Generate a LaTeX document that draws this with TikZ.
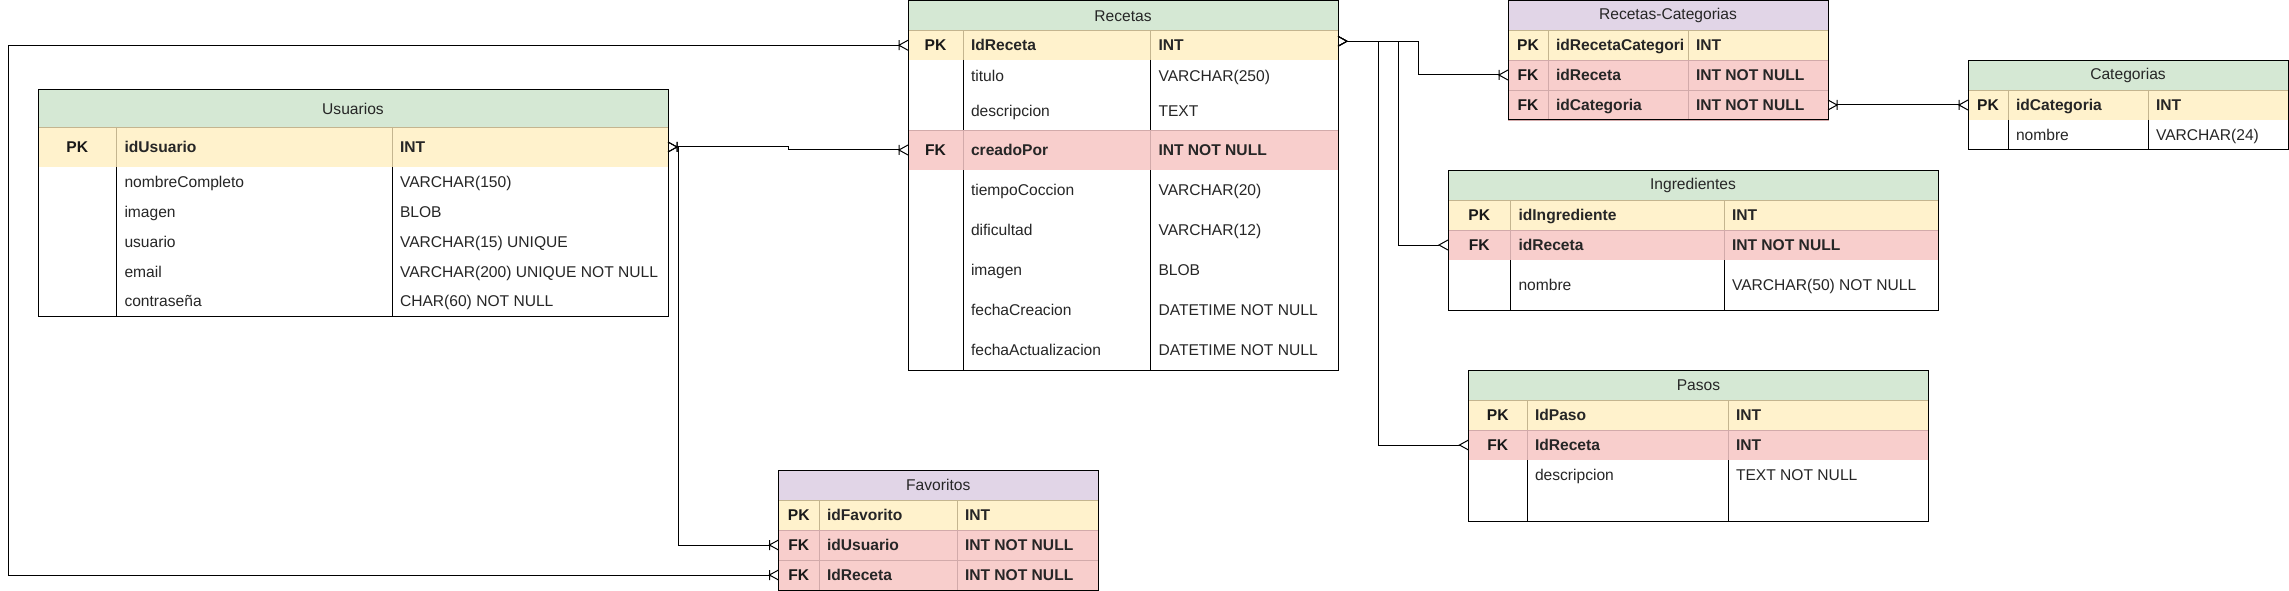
\documentclass[tikz,border=0pt]{standalone}
\usepackage{fontspec}
\setmainfont{Liberation Sans}
\usetikzlibrary{arrows.meta}

\definecolor{hdrgreen}{HTML}{D5E8D4}
\definecolor{hdrpurple}{HTML}{E1D5E7}
\definecolor{pkfill}{HTML}{FFF2CC}
\definecolor{fkfill}{HTML}{F8CECC}
\definecolor{pkline}{HTML}{C4B58F}
\definecolor{fkline}{HTML}{D2AAAA}

\pgfdeclarearrow{
  name=Crow,
  parameters={\the\pgfarrowlength,\the\pgfarrowwidth},
  setup code={
    \pgfarrowssettipend{0pt}
    \pgfarrowssetlineend{-\pgfarrowlength}
    \pgfarrowssetbackend{-\pgfarrowlength}
    \pgfarrowssetvisualbackend{-\pgfarrowlength}
    \pgfarrowshullpoint{0pt}{0.5\pgfarrowwidth}
    \pgfarrowshullpoint{0pt}{-0.5\pgfarrowwidth}
    \pgfarrowshullpoint{-\pgfarrowlength}{0pt}
    \pgfarrowssavethe\pgfarrowlength
    \pgfarrowssavethe\pgfarrowwidth
  },
  drawing code={
    \pgfpathmoveto{\pgfpoint{0pt}{0.5\pgfarrowwidth}}
    \pgfpathlineto{\pgfpoint{-\pgfarrowlength}{0pt}}
    \pgfpathlineto{\pgfpoint{0pt}{-0.5\pgfarrowwidth}}
    \pgfusepathqstroke
  },
  defaults={length=9pt,width=10pt}
}
\pgfdeclarearrow{
  name=CrowBar,
  parameters={\the\pgfarrowlength,\the\pgfarrowwidth},
  setup code={
    \pgfarrowssettipend{0pt}
    \pgfarrowssetlineend{-\pgfarrowlength}
    \pgfarrowssetbackend{-\pgfarrowlength}
    \pgfarrowssetvisualbackend{-\pgfarrowlength}
    \pgfarrowshullpoint{0pt}{0.5\pgfarrowwidth}
    \pgfarrowshullpoint{0pt}{-0.5\pgfarrowwidth}
    \pgfarrowshullpoint{-\pgfarrowlength}{0.5\pgfarrowwidth}
    \pgfarrowshullpoint{-\pgfarrowlength}{-0.5\pgfarrowwidth}
    \pgfarrowssavethe\pgfarrowlength
    \pgfarrowssavethe\pgfarrowwidth
  },
  drawing code={
    \pgfpathmoveto{\pgfpoint{0pt}{0.5\pgfarrowwidth}}
    \pgfpathlineto{\pgfpoint{-\pgfarrowlength}{0pt}}
    \pgfpathlineto{\pgfpoint{0pt}{-0.5\pgfarrowwidth}}
    \pgfpathmoveto{\pgfpoint{-\pgfarrowlength}{0.5\pgfarrowwidth}}
    \pgfpathlineto{\pgfpoint{-\pgfarrowlength}{-0.5\pgfarrowwidth}}
    \pgfusepathqstroke
  },
  defaults={length=9pt,width=10pt}
}

\newcommand\tfont{\fontsize{15.6pt}{18pt}\selectfont}

\tikzset{
  hdr/.style={inner sep=0pt, outer sep=0pt, draw=none, font=\tfont, text=black!85},
  rowbox/.style={inner sep=0pt, outer sep=0pt},
  pkrow/.style={rowbox, fill=pkfill, draw=pkline, line width=0.8pt},
  fkrow/.style={rowbox, fill=fkfill, draw=fkline, line width=0.8pt},
  plainrow/.style={rowbox, fill=white, draw=none},
  keytxt/.style={inner sep=0pt, outer sep=0pt, anchor=center, font=\tfont\bfseries,
    text height=14.1pt, text depth=3.3pt, text=black!90},
  fldtxt/.style={inner sep=0pt, outer sep=0pt, anchor=west, font=\tfont,
    text height=14.1pt, text depth=3.3pt, text=black!85},
  divline/.style={line width=1pt},
  tframe/.style={draw=black, line width=1pt, fill=none, inner sep=0pt, outer sep=0pt},
  conn/.style={draw=black, line width=1pt}
}

% column positions of the current table
\newcommand\cols[4]{\def\cA{#1}\def\cB{#2}\def\cC{#3}\def\cD{#4}}
% header: name, fill, ytop, ybot, title
\newcommand\thead[5]{%
  \node[hdr, fill=#2, minimum width={(\cD-\cA)*1pt}, minimum height={(#4-#3)*1pt}]
    (#1) at ({(\cA+\cD)/2},{(#3+#4)/2}) {#5};}
% row: name, style, divider colour, ytop, ybot, key, field, type, weight
\newcommand\trow[9]{%
  \node[#2, minimum width={(\cD-\cA)*1pt}, minimum height={(#5-#4)*1pt}]
    (#1) at ({(\cA+\cD)/2},{(#4+#5)/2}) {};
  \draw[divline, draw=#3] (\cB,#4) -- (\cB,#5);
  \draw[divline, draw=#3] (\cC,#4) -- (\cC,#5);
  \node[keytxt] (#1-k) at ({(\cA+\cB)/2},{(#4+#5)/2}) {#6};
  \node[fldtxt] (#1-f) at ({\cB+8},{(#4+#5)/2}) {#9#7};
  \node[fldtxt] (#1-t) at ({\cC+8},{(#4+#5)/2}) {#9#8};}
% outer frame: name, ytop, ybot
\newcommand\tbox[3]{%
  \node[tframe, minimum width={(\cD-\cA)*1pt}, minimum height={(#3-#2)*1pt}]
    (#1) at ({(\cA+\cD)/2},{(#2+#3)/2}) {};}

\begin{document}
\begin{tikzpicture}[x=1pt,y=-1pt]
\fill[white] (0,0) rectangle (2289,591);
\useasboundingbox (0,0) rectangle (2289,591);

% ---------------- Usuarios
\cols{38}{116.5}{392}{668}
\thead{usu-h}{hdrgreen}{90}{127}{Usuarios}
\trow{usu-pk}{pkrow}{pkline}{127}{167}{PK}{idUsuario}{INT}{\bfseries}
\trow{usu-r1}{plainrow}{black}{167}{197}{}{nombreCompleto}{VARCHAR(150)}{}
\trow{usu-r2}{plainrow}{black}{197}{227}{}{imagen}{BLOB}{}
\trow{usu-r3}{plainrow}{black}{227}{257}{}{usuario}{VARCHAR(15) UNIQUE}{}
\trow{usu-r4}{plainrow}{black}{257}{287}{}{email}{VARCHAR(200) UNIQUE NOT NULL}{}
\trow{usu-r5}{plainrow}{black}{287}{316}{}{contraseña}{CHAR(60) NOT NULL}{}
\tbox{usu}{90}{316}

% ---------------- Recetas
\cols{908}{963}{1150.5}{1338}
\thead{rec-h}{hdrgreen}{1}{30.5}{Recetas}
\trow{rec-pk}{pkrow}{pkline}{30.5}{60}{PK}{IdReceta}{INT}{\bfseries}
\trow{rec-r1}{plainrow}{black}{60}{92}{}{titulo}{VARCHAR(250)}{}
\trow{rec-r2}{plainrow}{black}{92}{130}{}{descripcion}{TEXT}{}
\trow{rec-fk}{fkrow}{fkline}{130}{170}{FK}{creadoPor}{INT NOT NULL}{\bfseries}
\trow{rec-r3}{plainrow}{black}{170}{210}{}{tiempoCoccion}{VARCHAR(20)}{}
\trow{rec-r4}{plainrow}{black}{210}{250}{}{dificultad}{VARCHAR(12)}{}
\trow{rec-r5}{plainrow}{black}{250}{290}{}{imagen}{BLOB}{}
\trow{rec-r6}{plainrow}{black}{290}{330}{}{fechaCreacion}{DATETIME NOT NULL}{}
\trow{rec-r7}{plainrow}{black}{330}{370}{}{fechaActualizacion}{DATETIME NOT NULL}{}
\tbox{rec}{1}{370}

% ---------------- Recetas-Categorias
\cols{1508}{1548}{1688}{1828}
\thead{rc-h}{hdrpurple}{1}{30.5}{Recetas-Categorias}
\trow{rc-pk}{pkrow}{pkline}{30.5}{60}{PK}{idRecetaCategori}{INT}{\bfseries}
\trow{rc-fk1}{fkrow}{fkline}{60}{90}{FK}{idReceta}{INT NOT NULL}{\bfseries}
\trow{rc-fk2}{fkrow}{fkline}{90}{120}{FK}{idCategoria}{INT NOT NULL}{\bfseries}
\tbox{rc}{1}{120}

% ---------------- Categorias
\cols{1968}{2008}{2148}{2288}
\thead{cat-h}{hdrgreen}{60.5}{90}{Categorias}
\trow{cat-pk}{pkrow}{pkline}{90}{120}{PK}{idCategoria}{INT}{\bfseries}
\trow{cat-r1}{plainrow}{black}{120}{150}{}{nombre}{VARCHAR(24)}{}
\tbox{cat}{60.5}{150}

% ---------------- Ingredientes
\cols{1448}{1510.5}{1724}{1938}
\thead{ing-h}{hdrgreen}{170.5}{200}{Ingredientes}
\trow{ing-pk}{pkrow}{pkline}{200}{230}{PK}{idIngrediente}{INT}{\bfseries}
\trow{ing-fk}{fkrow}{fkline}{230}{260}{FK}{idReceta}{INT NOT NULL}{\bfseries}
\trow{ing-r1}{plainrow}{black}{260}{310}{}{nombre}{VARCHAR(50) NOT NULL}{}
\tbox{ing}{170.5}{310}

% ---------------- Pasos
\cols{1468.5}{1527}{1728}{1928.5}
\thead{pas-h}{hdrgreen}{370.5}{400}{Pasos}
\trow{pas-pk}{pkrow}{pkline}{400}{430}{PK}{IdPaso}{INT}{\bfseries}
\trow{pas-fk}{fkrow}{fkline}{430}{460}{FK}{IdReceta}{INT}{\bfseries}
\trow{pas-r1}{plainrow}{black}{460}{490}{}{descripcion}{TEXT NOT NULL}{}
\trow{pas-r2}{plainrow}{black}{490}{521}{}{}{}{}
\tbox{pas}{370.5}{521}

% ---------------- Favoritos
\cols{778.5}{819}{957}{1098}
\thead{fav-h}{hdrpurple}{470.5}{500}{Favoritos}
\trow{fav-pk}{pkrow}{pkline}{500}{530}{PK}{idFavorito}{INT}{\bfseries}
\trow{fav-fk1}{fkrow}{fkline}{530}{560}{FK}{idUsuario}{INT NOT NULL}{\bfseries}
\trow{fav-fk2}{fkrow}{fkline}{560}{590}{FK}{IdReceta}{INT NOT NULL}{\bfseries}
\tbox{fav}{470.5}{590}

% ---------------- connectors
\draw[conn, arrows=CrowBar-CrowBar] (usu-pk.east) -- ++(120,0) |- (rec-fk.west);
\draw[conn, arrows=CrowBar-CrowBar] (usu-pk.east) -- ++(10,0) |- (fav-fk1.west);
\draw[conn, arrows=CrowBar-CrowBar] (rec-pk.west) -- ++(-900,0) |- (fav-fk2.west);
\draw[conn, arrows=Crow-CrowBar] ([yshift=4pt]rec-pk.east) -- ++(80.5,0) |- (rc-fk1.west);
\draw[conn, arrows=Crow-Crow] ([yshift=4pt]rec-pk.east) -- ++(60.5,0) |- (ing-fk.west);
\draw[conn, arrows=Crow-Crow] ([yshift=4pt]rec-pk.east) -- ++(40.5,0) |- (pas-fk.west);
\draw[conn, arrows=CrowBar-CrowBar] (rc-fk2.east) -- (cat-pk.west);
\end{tikzpicture}
\end{document}
